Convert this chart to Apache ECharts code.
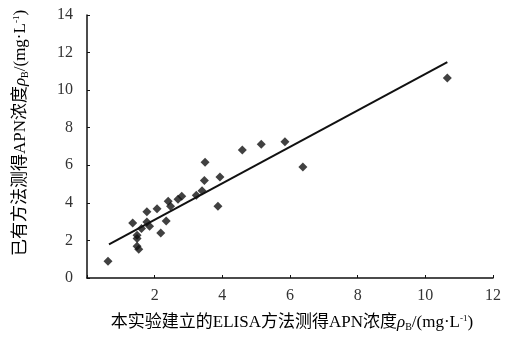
<!DOCTYPE html>
<html>
<head>
<meta charset="utf-8">
<script src="https://cdn.jsdelivr.net/npm/echarts@6/dist/echarts.min.js"></script>
<style>
  html, body { margin: 0; padding: 0; background: #fff; }
  #chart { width: 524px; height: 347px; }
</style>
</head>
<body>
<div id="chart"></div>
<script>
// measured points: ELISA method (x) vs existing method (y)
var elisaX = [0.62, 1.35, 1.48, 1.48, 1.48, 1.53, 1.61, 1.77, 1.77, 1.85, 2.07, 2.18, 2.34, 2.40, 2.47,
              2.69, 2.80, 3.23, 3.40, 3.47, 3.49, 3.87, 3.93, 4.59, 5.15, 5.85, 6.38, 10.65];
var existY = [0.89, 2.93, 2.27, 2.10, 1.69, 1.53, 2.63, 3.52, 2.98, 2.75, 3.69, 2.40, 3.04, 4.09, 3.82,
              4.19, 4.35, 4.40, 4.65, 5.19, 6.16, 3.82, 5.38, 6.82, 7.12, 7.25, 5.91, 10.64];
// fitted line endpoints as drawn
var fitX = [0.65, 10.65];
var fitY = [1.79, 11.49];
var xTicks = [0, 2, 4, 6, 8, 10, 12];
var yTicks = [0, 2, 4, 6, 8, 10, 12, 14];

var serif = '"Liberation Serif", "Noto Sans CJK SC", serif';
var richName = {
  a: { fontFamily: serif, fontSize: 17, color: '#333' },
  rho: { fontFamily: serif, fontSize: 17, fontStyle: 'italic', color: '#333' },
  sub: { fontFamily: serif, fontSize: 10, color: '#333', verticalAlign: 'bottom', padding: [8, 0, 0, 0] },
  sup: { fontFamily: serif, fontSize: 9, color: '#333', verticalAlign: 'top', padding: [0, 0, 8, 0] }
};

var points = [];
for (var i = 0; i < elisaX.length; i++) points.push([elisaX[i], existY[i]]);
var line = [];
for (var j = 0; j < fitX.length; j++) line.push([fitX[j], fitY[j]]);

var chart = echarts.init(document.getElementById('chart'));
chart.setOption({
  backgroundColor: '#fff',
  animation: false,
  grid: { left: 87, right: 31, top: 15, bottom: 69 },
  xAxis: {
    type: 'value',
    min: xTicks[0], max: xTicks[xTicks.length - 1], interval: 2,
    splitLine: { show: false },
    axisLine: { lineStyle: { color: '#111', width: 1.5 } },
    axisTick: { inside: true, length: 3, lineStyle: { color: '#111' } },
    axisLabel: {
      margin: 10, fontFamily: serif, fontSize: 16, color: '#333',
      formatter: function (v) { return v === 0 ? '' : v; }
    }
  },
  yAxis: {
    type: 'value',
    min: yTicks[0], max: yTicks[yTicks.length - 1], interval: 2,
    splitLine: { show: false },
    axisLine: { lineStyle: { color: '#111', width: 1.5 } },
    axisTick: { inside: true, length: 3, lineStyle: { color: '#111' } },
    axisLabel: { margin: 14, fontFamily: serif, fontSize: 16, color: '#333' }
  },
  graphic: [
    {
      type: 'text', x: 292, y: 323,
      style: {
        text: '{a|本实验建立的ELISA方法测得APN浓度}{rho|ρ}{sub|B}{a|/(mg·L}{sup|-1}{a|)}',
        rich: richName, align: 'center', verticalAlign: 'middle'
      }
    },
    {
      type: 'text', x: 21, y: 133, rotation: Math.PI / 2,
      style: {
        text: '{a|已有方法测得APN浓度}{rho|ρ}{sub|B}{a|/(mg·L}{sup|-1}{a|)}',
        rich: richName, align: 'center', verticalAlign: 'middle'
      }
    }
  ],
  series: [
    {
      type: 'scatter',
      data: points,
      symbol: 'diamond',
      symbolSize: 9,
      itemStyle: { color: '#111' }
    },
    {
      type: 'line',
      data: line,
      symbol: 'none',
      lineStyle: { color: '#111', width: 2 }
    }
  ]
});
</script>
</body>
</html>
